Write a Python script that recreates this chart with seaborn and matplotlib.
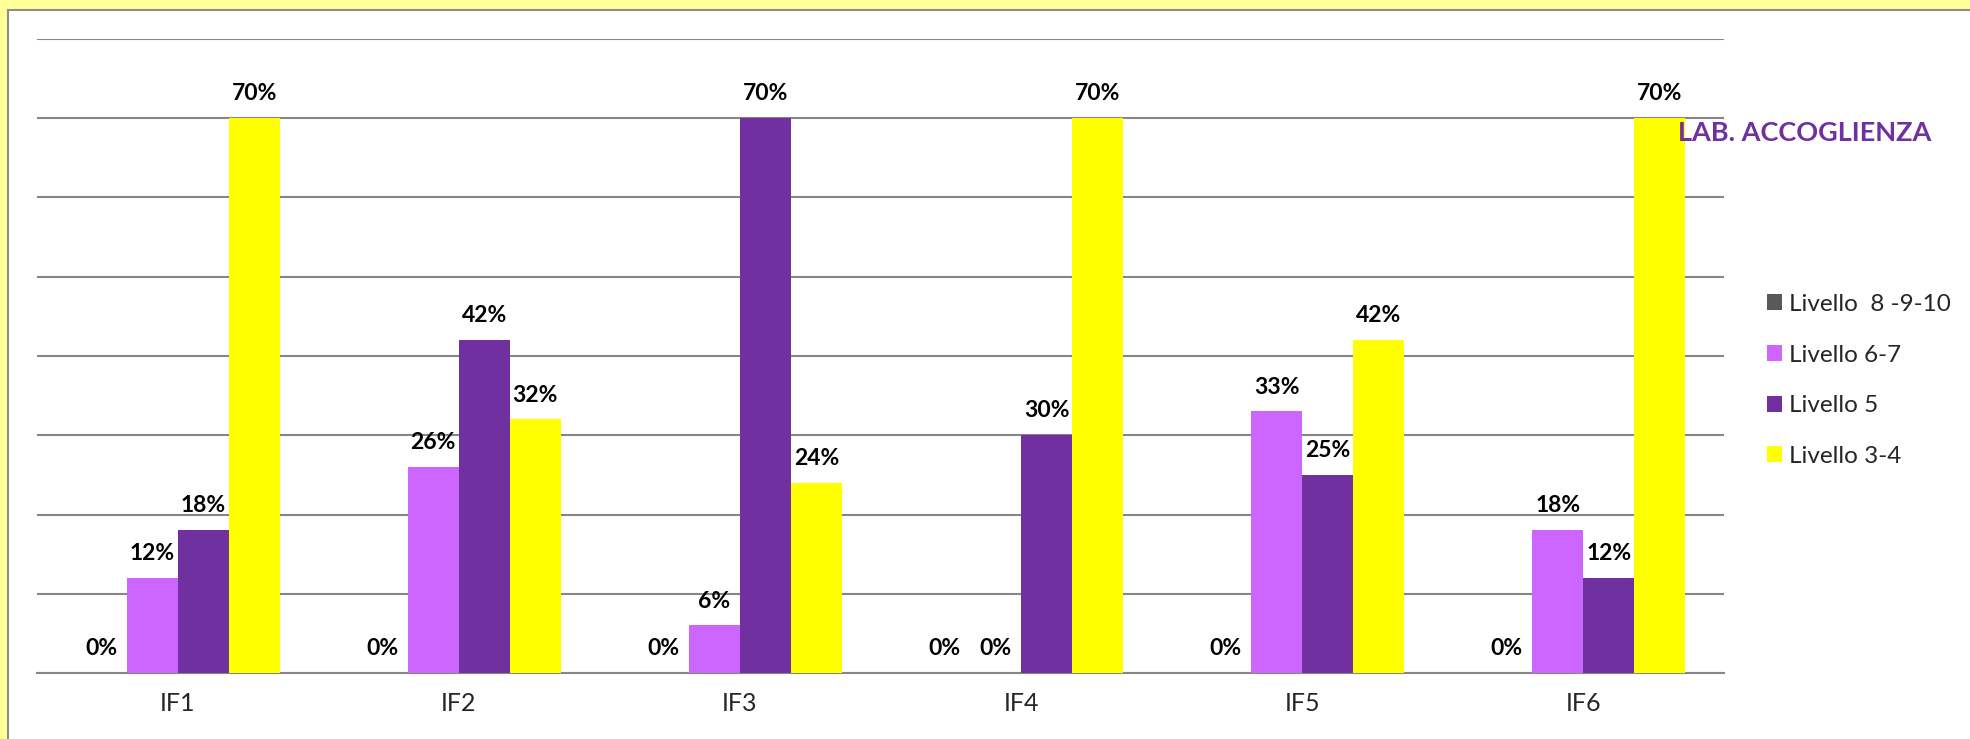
import numpy as np
import pandas as pd
import matplotlib
matplotlib.use("Agg")
import matplotlib.pyplot as plt
import seaborn as sns
from matplotlib.patches import Rectangle

categorie = ['IF1', 'IF2', 'IF3', 'IF4', 'IF5', 'IF6']
livelli = ['Livello  8 -9-10', 'Livello 6-7', 'Livello 5', 'Livello 3-4']
liv_8_10 = [0, 0, 0, 0, 0, 0]
liv_6_7 = [12, 26, 6, 0, 33, 18]
liv_5 = [18, 42, 70, 30, 25, 12]
liv_3_4 = [70, 32, 24, 70, 42, 70]
titolo = 'LAB. ACCOGLIENZA'

colori = ['#595959', '#CC66FF', '#7030A0', '#FFFF00']

righe = []
for liv, vals in zip(livelli, [liv_8_10, liv_6_7, liv_5, liv_3_4]):
    for c, v in zip(categorie, vals):
        righe.append({'IF': c, 'Livello': liv, 'Valore': v})
data = pd.DataFrame(righe)

sns.set_style("white")
plt.rcParams['font.family'] = ['Lato', 'DejaVu Sans']

fig = plt.figure(figsize=(19.7, 7.39), dpi=100)
fig.patch.set_facecolor('#FFFF99')

# pannello bianco con bordo grigio
fig.patches.append(Rectangle((8/1970, -0.1), 1.1, 1 - 10/739 + 0.1,
                             transform=fig.transFigure, facecolor='white',
                             edgecolor='#8C8C8C', linewidth=1.5, zorder=-5))

ax = fig.add_axes([37/1970, 66/739, (1724-37)/1970, (673-39)/739])
ax.set_facecolor('none')

sns.barplot(data=data, x='IF', y='Valore', hue='Livello', order=categorie,
            hue_order=livelli, palette=colori, saturation=1, width=0.726,
            linewidth=0, ax=ax, zorder=3)

for cont in ax.containers:
    ax.bar_label(cont, labels=[f'{b.get_height():.0f}%' for b in cont],
                 padding=10, fontsize=16.5, fontweight='bold', color='black')

ax.set_ylim(0, 80)
ax.set_xlim(-0.5, 5.5)
ax.set_yticks(np.arange(0, 81, 10))
ax.set_yticklabels([])
ax.yaxis.grid(True, color='#868686', linewidth=1.5)
ax.tick_params(axis='y', length=0)
ax.set_axisbelow(True)
for s in ['top', 'right', 'left']:
    ax.spines[s].set_visible(False)
ax.spines['bottom'].set_color('#868686')
ax.spines['bottom'].set_linewidth(1.5)
ax.set_xticks(np.arange(-0.5, 6, 1), minor=True)
ax.tick_params(axis='x', which='minor', length=6, width=1.5, color='#868686', direction='out')
ax.tick_params(axis='x', which='major', length=0, labelsize=18, pad=14)
ax.set_xlabel('')
ax.set_ylabel('')

h, l = ax.get_legend_handles_labels()
ax.legend(h, l, loc='upper left', bbox_to_anchor=(1745/1970, 1 - 272/739),
          bbox_transform=fig.transFigure, frameon=False, fontsize=17.5,
          handlelength=0.62, handleheight=0.62, handletextpad=0.3, labelspacing=1.22)

fig.text(1678/1970, 1 - 133/739, titolo, color='#7030A0', fontsize=19.5,
         fontweight='bold', ha='left', va='center')

plt.savefig('out.png', dpi=100, facecolor=fig.get_facecolor())
